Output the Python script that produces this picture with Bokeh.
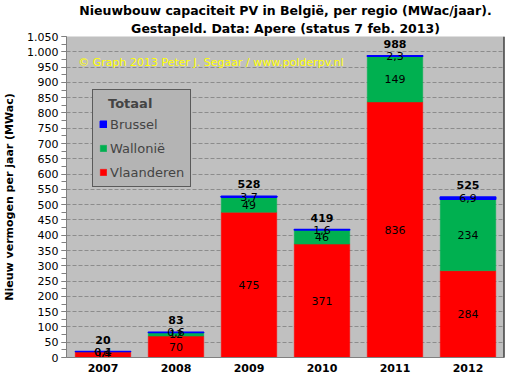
from bokeh.plotting import figure
from bokeh.models import (ColumnDataSource, FactorRange, Range1d, Legend, LegendItem,
                          Label, Span, Title, FixedTicker)
from bokeh.embed import file_html
from bokeh.resources import INLINE
from bokeh.core.properties import value

years = ["2007", "2008", "2009", "2010", "2011", "2012"]
vlaanderen = [19, 70, 475, 371, 836, 284]
wallonie = [0.4, 12, 49, 46, 149, 234]
brussel = [0.1, 0.6, 3.7, 1.6, 2.3, 6.9]
totals = [20, 83, 528, 419, 988, 525]
series = ["Vlaanderen", "Wallonië", "Brussel"]
colors = ["#FF0000", "#00B050", "#0000FF"]
y_ticks = list(range(0, 1051, 50))
y_minor = list(range(0, 1051, 25))

FONT = "DejaVu Sans"


def fmt(v):
    if v >= 10:
        return str(int(round(v)))
    return f"{v:.1f}".replace(".", ",")


def dutch(n):
    return f"{n:,}".replace(",", ".")


src = ColumnDataSource(dict(year=years, vl=vlaanderen, wa=wallonie, br=brussel))

p = figure(x_range=FactorRange(*years, range_padding=0), y_range=Range1d(0, 1050),
           width=514, height=374, output_backend="svg", toolbar_location=None,
           min_border_left=55, min_border_right=10, min_border_top=30, min_border_bottom=0,
           background_fill_color="#C0C0C0", border_fill_color="white",
           outline_line_color=None)

# titles (second line added first so it sits closest to the plot)
t2 = Title(text="Gestapeld. Data: Apere (status 7 feb. 2013)", align="center",
           text_font=FONT, text_font_size="12.5px", text_font_style="bold",
           text_color="black", standoff=2)
t1 = Title(text="Nieuwbouw capaciteit PV in België, per regio (MWac/jaar).", align="center",
           text_font=FONT, text_font_size="12.5px", text_font_style="bold",
           text_color="black", standoff=0)
p.add_layout(t2, "above")
p.add_layout(t1, "above")

rs = p.vbar_stack(["vl", "wa", "br"], x="year", width=0.76, source=src,
                  fill_color=colors, line_color=colors, line_width=[0.5, 0.5, 1.5])

# segment labels
lx, ly, lt = [], [], []
for i, y in enumerate(years):
    base = 0
    for vals in (vlaanderen, wallonie, brussel):
        v = vals[i]
        lx.append(y)
        ly.append(base + v / 2)
        lt.append(fmt(v))
        base += v
p.text(x=lx, y=ly, text=lt, text_align="center", text_baseline="middle",
       text_font=value(FONT), text_font_size="11px", text_color="black")

# totals
tops = [a + b + c for a, b, c in zip(vlaanderen, wallonie, brussel)]
p.text(x=years, y=tops, text=[str(t) for t in totals], text_align="center",
       text_baseline="middle", y_offset=-12, text_font=value(FONT),
       text_font_size="11px", text_font_style="bold", text_color="black")

# copyright
p.add_layout(Label(x=0.16, y=965, text="© Graph 2013 Peter J. Segaar / www.polderpv.nl",
                   text_color="#FFFF00", text_font=FONT, text_font_size="11px",
                   text_baseline="middle"))

# right frame edge
p.add_layout(Span(location=6, dimension="height", line_color="black", line_width=2))

# axes
p.yaxis.ticker = FixedTicker(ticks=y_ticks, minor_ticks=y_minor)
p.yaxis.major_label_overrides = {t: dutch(t) for t in y_ticks}
p.yaxis.major_label_text_font = FONT
p.yaxis.major_label_text_font_size = "11px"
p.yaxis.major_label_text_color = "black"
p.yaxis.axis_line_color = "#808080"
p.yaxis.major_tick_line_color = "#808080"
p.yaxis.minor_tick_line_color = "#808080"
p.yaxis.major_tick_out = 5
p.yaxis.major_tick_in = 0
p.yaxis.minor_tick_out = 5
p.yaxis.minor_tick_in = 0
p.yaxis.major_label_standoff = 3
p.yaxis.axis_label = "Nieuw vermogen per jaar (MWac)"
p.yaxis.axis_label_text_font = FONT
p.yaxis.axis_label_text_font_size = "11px"
p.yaxis.axis_label_text_font_style = "bold"
p.yaxis.axis_label_text_color = "black"
p.yaxis.axis_label_standoff = 8

p.xaxis.major_label_text_font = FONT
p.xaxis.major_label_text_font_size = "11px"
p.xaxis.major_label_text_font_style = "bold"
p.xaxis.major_label_text_color = "black"
p.xaxis.axis_line_color = "#808080"
p.xaxis.major_tick_line_color = None
p.xaxis.major_tick_out = 0
p.xaxis.major_tick_in = 0
p.xaxis.major_label_standoff = 6

p.ygrid.ticker = FixedTicker(ticks=y_ticks)
p.ygrid.grid_line_color = "#8C8C8C"
p.ygrid.grid_line_dash = "4 2"
p.xgrid.grid_line_color = None

# legend
items = [LegendItem(label=series[k], renderers=[rs[k]]) for k in (2, 1, 0)]
leg = Legend(items=items, location=(26, 170), title="\u00a0\u00a0Totaal",
             title_text_font=FONT, title_text_font_size="13px", title_text_font_style="bold",
             title_standoff=5, label_text_font=FONT, label_text_font_size="13px",
             glyph_width=8, glyph_height=8, label_standoff=3, label_height=16, spacing=8,
             padding=6, margin=0, border_line_color="black", border_line_width=1,
             background_fill_color="#B4B4B4", background_fill_alpha=1)
p.add_layout(leg)

open("out.html", "w").write(file_html(p, INLINE))
